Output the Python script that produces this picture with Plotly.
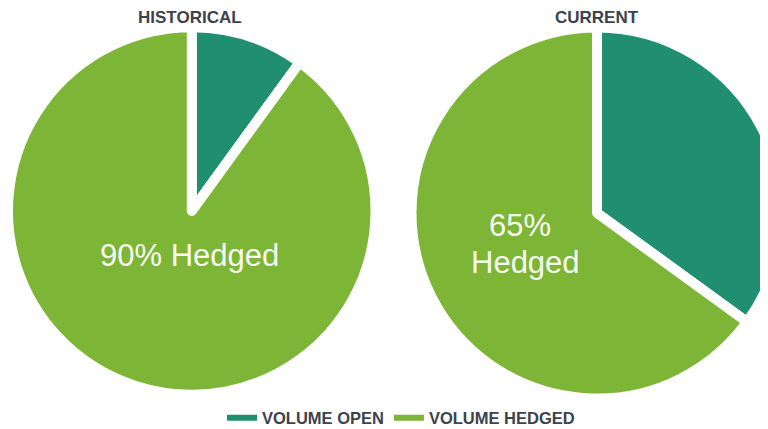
import plotly.graph_objects as go

labels = ['VOLUME OPEN', 'VOLUME HEDGED']
historical = [10, 90]
current = [35, 65]
titles = ['HISTORICAL', 'CURRENT']
colors = ['#1f8f6f', '#7db636']

# the page body has an 8px margin, so the figure is a bit larger than the window
OFF = 8
W, H = 776, 437


def px(x):
    return (x - OFF) / W


def py(y):
    return 1 - (y - OFF) / H


fig = go.Figure()

# left pie: page centre ~ (190, 211)
fig.add_trace(go.Pie(
    labels=labels, values=historical, sort=False, direction='clockwise',
    rotation=0, textinfo='none', hoverinfo='label+percent',
    marker=dict(colors=colors, line=dict(color='white', width=10)),
    domain=dict(x=[0, px(375.5)], y=[py(211 + 183.75), py(211 - 183.75)]),
    showlegend=False,
))
# right pie: page centre ~ (597, 213)
fig.add_trace(go.Pie(
    labels=labels, values=current, sort=False, direction='clockwise',
    rotation=0, textinfo='none', hoverinfo='label+percent',
    marker=dict(colors=colors, line=dict(color='white', width=10)),
    domain=dict(x=[px(597 - 185.5), px(597 + 185.5)], y=[py(213 + 185.5), py(213 - 185.5)]),
    showlegend=False,
))

# legend entries drawn as thick line swatches
for name, c in zip(labels, colors):
    fig.add_trace(go.Scatter(x=[None], y=[None], mode='lines', name=name,
                             line=dict(color=c, width=6), showlegend=True, hoverinfo='skip'))

title_font = dict(family='Liberation Sans, Arial', size=17, color='#3d424b', weight='bold')
for t, x in zip(titles, [190, 597]):
    fig.add_annotation(x=px(x), y=py(17), xref='paper', yref='paper', text=t,
                       showarrow=False, xanchor='center', yanchor='middle', font=title_font)

label_font = dict(family='Liberation Sans, Arial', size=31, color='#f8faf2')
fig.add_annotation(x=px(189), y=py(256), xref='paper', yref='paper',
                   text=f'{historical[1]}% Hedged', showarrow=False,
                   xanchor='center', yanchor='middle', font=label_font)
fig.add_annotation(x=px(520), y=py(226), xref='paper', yref='paper',
                   text=f'{current[1]}%', showarrow=False,
                   xanchor='center', yanchor='middle', font=label_font)
fig.add_annotation(x=px(525), y=py(262), xref='paper', yref='paper',
                   text='Hedged', showarrow=False,
                   xanchor='center', yanchor='middle', font=label_font)

fig.update_layout(
    width=W, height=H,
    margin=dict(l=0, r=0, t=0, b=0),
    paper_bgcolor='white', plot_bgcolor='white',
    xaxis=dict(visible=False), yaxis=dict(visible=False),
    legend=dict(orientation='h', x=px(401), xanchor='center', y=py(418), yanchor='middle',
                font=dict(family='Liberation Sans, Arial', size=16.5, color='#3d424b', weight='bold'),
                itemwidth=30, bgcolor='rgba(0,0,0,0)'),
)

fig.write_html('out.html')
